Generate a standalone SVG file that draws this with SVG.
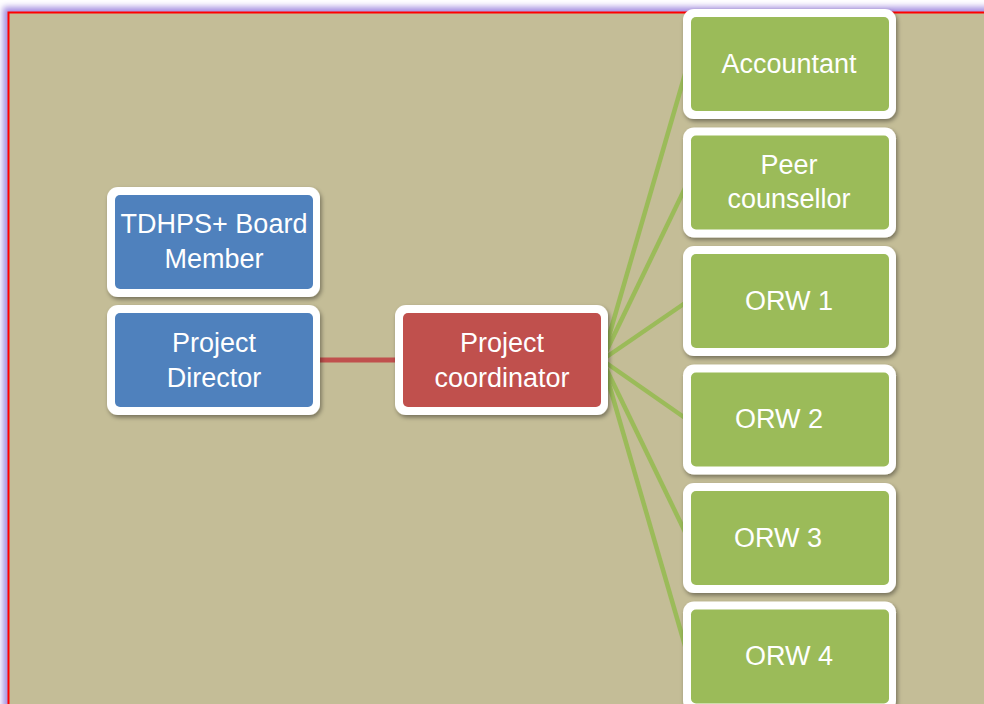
<svg xmlns="http://www.w3.org/2000/svg" width="984" height="704" viewBox="0 0 984 704">
<defs>
<filter id="glow" x="-5%" y="-5%" width="110%" height="110%"><feGaussianBlur stdDeviation="3"/></filter>
<filter id="sh" x="-10%" y="-10%" width="125%" height="125%"><feDropShadow dx="1.5" dy="2.5" stdDeviation="2" flood-color="#000" flood-opacity="0.4"/></filter>
<style>
.outer{fill:#fff;filter:url(#sh)}
.blue{fill:#4F81BD}
.red{fill:#C0504D}
.green{fill:#9BBB59}
text{font-family:"Liberation Sans",Arial,sans-serif;font-size:27px;fill:#fff;text-anchor:middle}
.gl{stroke:#9BBB59;stroke-width:4.5;fill:none}
</style>
</defs>
<rect width="984" height="704" fill="#fff"/>
<rect x="8" y="12" width="990" height="710" fill="none" stroke="#a48ee0" stroke-width="10" filter="url(#glow)"/>
<rect x="8.5" y="12.5" width="990" height="710" fill="#C4BD97" stroke="#ff0000" stroke-width="2"/>
<g id="connectors">
<line x1="317" y1="360" x2="396" y2="360" stroke="#C0504D" stroke-width="5"/>
<line class="gl" x1="602" y1="360" x2="688" y2="64"/>
<line class="gl" x1="602" y1="360" x2="688" y2="182"/>
<line class="gl" x1="602" y1="360" x2="688" y2="301"/>
<line class="gl" x1="602" y1="360" x2="688" y2="420"/>
<line class="gl" x1="602" y1="360" x2="688" y2="538"/>
<line class="gl" x1="602" y1="360" x2="688" y2="656"/>
</g>
<g id="board">
<rect class="outer" x="107" y="187" width="213" height="110" rx="11"/>
<rect class="blue" x="115" y="195" width="198" height="94" rx="5"/>
<text x="214" y="233">TDHPS+ Board</text><text x="214" y="268">Member</text>
</g>
<g id="director">
<rect class="outer" x="107" y="305" width="213" height="110" rx="11"/>
<rect class="blue" x="115" y="313" width="198" height="94" rx="5"/>
<text x="214" y="352">Project</text><text x="214" y="387">Director</text>
</g>
<g id="coordinator">
<rect class="outer" x="395" y="305" width="213" height="110" rx="11"/>
<rect class="red" x="403" y="313" width="198" height="94" rx="5"/>
<text x="502" y="352">Project</text><text x="502" y="387">coordinator</text>
</g>
<g id="accountant">
<rect class="outer" x="683" y="9" width="213" height="110" rx="11"/>
<rect class="green" x="691" y="17" width="198" height="94" rx="5"/>
<text x="789" y="73">Accountant</text>
</g>
<g id="peer">
<rect class="outer" x="683" y="127.5" width="213" height="110" rx="11"/>
<rect class="green" x="691" y="135.5" width="198" height="94" rx="5"/>
<text x="789" y="174">Peer</text><text x="789" y="208">counsellor</text>
</g>
<g id="orw1">
<rect class="outer" x="683" y="246" width="213" height="110" rx="11"/>
<rect class="green" x="691" y="254" width="198" height="94" rx="5"/>
<text x="789" y="310">ORW 1</text>
</g>
<g id="orw2">
<rect class="outer" x="683" y="364.5" width="213" height="110" rx="11"/>
<rect class="green" x="691" y="372.5" width="198" height="94" rx="5"/>
<text x="779" y="428">ORW 2</text>
</g>
<g id="orw3">
<rect class="outer" x="683" y="483" width="213" height="110" rx="11"/>
<rect class="green" x="691" y="491" width="198" height="94" rx="5"/>
<text x="778" y="547">ORW 3</text>
</g>
<g id="orw4">
<rect class="outer" x="683" y="601.5" width="213" height="110" rx="11"/>
<rect class="green" x="691" y="609.5" width="198" height="94" rx="5"/>
<text x="789" y="665">ORW 4</text>
</g>
</svg>
